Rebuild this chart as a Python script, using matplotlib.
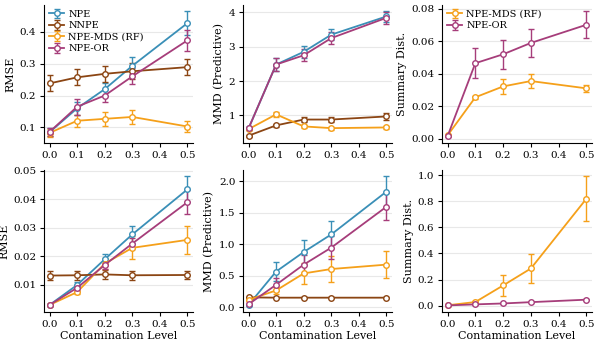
import matplotlib
matplotlib.use("Agg")
import matplotlib.pyplot as plt
import numpy as np

plt.rcParams['font.family'] = ['DejaVu Serif']
plt.rcParams['font.size'] = 8

levels = [0.0, 0.1, 0.2, 0.3, 0.5]
methods = ["NPE", "NNPE", "NPE-MDS (RF)", "NPE-OR"]
colors = {"NPE": "#3a8fb7", "NNPE": "#8b4513", "NPE-MDS (RF)": "#f5a01a", "NPE-OR": "#a63d7a"}

# Top row
rmse_top = {
    "NPE": [0.085, 0.160, 0.220, 0.293, 0.427],
    "NNPE": [0.238, 0.257, 0.268, 0.276, 0.289],
    "NPE-MDS (RF)": [0.083, 0.121, 0.127, 0.133, 0.103],
    "NPE-OR": [0.086, 0.165, 0.200, 0.260, 0.373],
}
rmse_top_err = {
    "NPE": [0.012, 0.020, 0.020, 0.027, 0.037],
    "NNPE": [0.025, 0.025, 0.025, 0.025, 0.026],
    "NPE-MDS (RF)": [0.012, 0.018, 0.021, 0.023, 0.017],
    "NPE-OR": [0.012, 0.025, 0.020, 0.025, 0.033],
}
mmd_top = {
    "NPE": [0.62, 2.48, 2.85, 3.35, 3.88],
    "NNPE": [0.41, 0.71, 0.88, 0.88, 0.97],
    "NPE-MDS (RF)": [0.60, 1.03, 0.68, 0.63, 0.65],
    "NPE-OR": [0.62, 2.48, 2.75, 3.25, 3.84],
}
mmd_top_err = {
    "NPE": [0.05, 0.20, 0.18, 0.15, 0.15],
    "NNPE": [0.03, 0.05, 0.08, 0.08, 0.10],
    "NPE-MDS (RF)": [0.03, 0.08, 0.04, 0.04, 0.04],
    "NPE-OR": [0.05, 0.20, 0.18, 0.18, 0.18],
}
sd_top = {
    "NPE-MDS (RF)": [0.0020, 0.0255, 0.0322, 0.0355, 0.0310],
    "NPE-OR": [0.0015, 0.0465, 0.0520, 0.0590, 0.0702],
}
sd_top_err = {
    "NPE-MDS (RF)": [0.0003, 0.0010, 0.0045, 0.0045, 0.0022],
    "NPE-OR": [0.0003, 0.0092, 0.0088, 0.0088, 0.0083],
}

# Bottom row
rmse_bot = {
    "NPE": [0.0030, 0.0100, 0.0190, 0.0277, 0.0435],
    "NNPE": [0.0133, 0.0134, 0.0137, 0.0134, 0.0135],
    "NPE-MDS (RF)": [0.0030, 0.0075, 0.0175, 0.0230, 0.0258],
    "NPE-OR": [0.0030, 0.0090, 0.0170, 0.0245, 0.0390],
}
rmse_bot_err = {
    "NPE": [0.0002, 0.0010, 0.0020, 0.0030, 0.0045],
    "NNPE": [0.0015, 0.0015, 0.0015, 0.0015, 0.0015],
    "NPE-MDS (RF)": [0.0002, 0.0008, 0.0020, 0.0040, 0.0048],
    "NPE-OR": [0.0002, 0.0010, 0.0015, 0.0020, 0.0042],
}
mmd_bot = {
    "NPE": [0.04, 0.57, 0.88, 1.16, 1.84],
    "NNPE": [0.16, 0.155, 0.155, 0.155, 0.155],
    "NPE-MDS (RF)": [0.12, 0.27, 0.54, 0.61, 0.68],
    "NPE-OR": [0.05, 0.36, 0.68, 0.95, 1.60],
}
mmd_bot_err = {
    "NPE": [0.01, 0.15, 0.19, 0.21, 0.24],
    "NNPE": [0.01, 0.01, 0.01, 0.01, 0.01],
    "NPE-MDS (RF)": [0.02, 0.05, 0.17, 0.21, 0.21],
    "NPE-OR": [0.01, 0.10, 0.15, 0.18, 0.21],
}
sd_bot = {
    "NPE-MDS (RF)": [0.003, 0.028, 0.155, 0.285, 0.820],
    "NPE-OR": [0.002, 0.010, 0.017, 0.027, 0.046],
}
sd_bot_err = {
    "NPE-MDS (RF)": [0.001, 0.005, 0.078, 0.110, 0.170],
    "NPE-OR": [0.001, 0.002, 0.002, 0.002, 0.003],
}

fig = plt.figure(figsize=(5.95, 3.44), dpi=100)
W, H = 595, 344
def add_ax(l, r, t, b):
    return fig.add_axes([l / W, 1 - b / H, (r - l) / W, (b - t) / H])

lefts = [(44, 193), (243, 392), (442, 592)]
rows = [(5, 143), (170, 312)]
panels = [
    [(rmse_top, rmse_top_err, "RMSE"), (mmd_top, mmd_top_err, "MMD (Predictive)"), (sd_top, sd_top_err, "Summary Dist.")],
    [(rmse_bot, rmse_bot_err, "RMSE"), (mmd_bot, mmd_bot_err, "MMD (Predictive)"), (sd_bot, sd_bot_err, "Summary Dist.")],
]

axes = []
for ri, (t, b) in enumerate(rows):
    for ci, (l, r) in enumerate(lefts):
        ax = add_ax(l, r, t, b)
        data, err, ylabel = panels[ri][ci]
        for m in methods:
            if m not in data:
                continue
            ax.errorbar(levels, data[m], yerr=err[m], color=colors[m], marker='o',
                        markersize=4, markerfacecolor='white', markeredgewidth=1.0,
                        linewidth=1.3, capsize=2, elinewidth=1.0, label=m)
        ax.set_ylabel(ylabel, fontsize=8, labelpad=3)
        ax.set_xticks([0.0, 0.1, 0.2, 0.3, 0.4, 0.5])
        ax.set_xlim(-0.02, 0.52)
        ax.grid(axis='y', color='#e8e8e8', linewidth=0.8)
        ax.set_axisbelow(True)
        for s in ['top', 'right']:
            ax.spines[s].set_visible(False)
        ax.tick_params(labelsize=7.5, length=3, pad=2.5)
        if ri == 1:
            ax.set_xlabel("Contamination Level", fontsize=8, labelpad=2)
        axes.append(ax)

axes[0].set_yticks([0.1, 0.2, 0.3, 0.4])
axes[1].set_yticks([1, 2, 3, 4])
axes[2].set_yticks([0.0, 0.02, 0.04, 0.06, 0.08])
axes[2].set_yticklabels(["0.00", "0.02", "0.04", "0.06", "0.08"])
axes[3].set_yticks([0.01, 0.02, 0.03, 0.04, 0.05])
axes[4].set_yticks([0.0, 0.5, 1.0, 1.5, 2.0])
axes[5].set_yticks([0.0, 0.2, 0.4, 0.6, 0.8, 1.0])

axes[0].legend(loc='upper left', fontsize=7, frameon=False, handlelength=1.6,
               borderaxespad=0.1, labelspacing=0.25, handletextpad=0.4)
axes[2].legend(loc='upper left', fontsize=7, frameon=False, handlelength=1.6,
               borderaxespad=0.1, labelspacing=0.25, handletextpad=0.4)

fig.savefig("out.png", dpi=100)
